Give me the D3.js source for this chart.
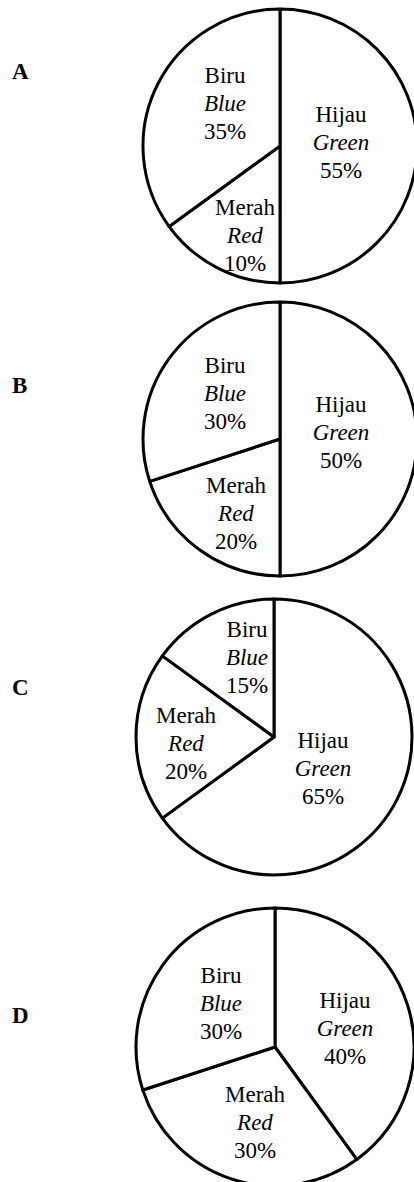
<!DOCTYPE html>
<html>
<head>
<meta charset="utf-8">
<script src="https://cdn.jsdelivr.net/npm/d3@7/dist/d3.min.js"></script>
<style>
  html, body { margin: 0; padding: 0; background: #fff; }
  svg { display: block; }
</style>
</head>
<body>
<svg id="chart" width="414" height="1182"></svg>
<script>
// ---- data ----
const charts = ["A", "B", "C", "D"];
const categoriesMalay = ["Hijau", "Merah", "Biru"];
const categoriesEnglish = ["Green", "Red", "Blue"];
// percentages printed in each pie (Hijau, Merah, Biru)
const labelA = [55, 10, 35];
const labelB = [50, 20, 30];
const labelC = [65, 20, 15];
const labelD = [40, 30, 30];
// share of the circle each slice is actually drawn with (Hijau, Merah, Biru)
const drawnA = [50, 15, 35];
const drawnB = [50, 20, 30];
const drawnC = [65, 20, 15];
const drawnD = [40, 30, 30];

const labels = [labelA, labelB, labelC, labelD];
const drawn = [drawnA, drawnB, drawnC, drawnD];

// ---- layout (positions only) ----
const layout = [
  { cx: 280, cy: 146, r: 137, letterY: 79,
    text: [[341, 122], [245, 215], [225, 83]] },
  { cx: 280, cy: 439, r: 137, letterY: 393,
    text: [[341, 412], [236, 493], [225, 373]] },
  { cx: 274, cy: 737, r: 138, letterY: 695,
    text: [[323, 748], [186, 723], [247, 637]] },
  { cx: 275, cy: 1047, r: 139, letterY: 1023,
    text: [[345, 1008], [255, 1102], [221, 983]] }
];
const lineGap = 28;

const svg = d3.select("#chart");
const pie = d3.pie().sort(null).value(d => d.v);

charts.forEach((name, i) => {
  const L = layout[i];
  const g = svg.append("g").attr("transform", `translate(${L.cx},${L.cy})`);
  const arc = d3.arc().innerRadius(0).outerRadius(L.r);
  const pieData = pie(drawn[i].map((v, k) => ({ v, k })));

  g.selectAll("path.slice")
    .data(pieData)
    .join("path")
    .attr("class", "slice")
    .attr("d", arc)
    .attr("fill", "#fff")
    .attr("stroke", "#000")
    .attr("stroke-width", 3)
    .attr("stroke-linejoin", "round");

  // chart letter
  svg.append("text")
    .attr("x", 12)
    .attr("y", L.letterY)
    .attr("font-family", "'Liberation Serif', 'DejaVu Serif', serif")
    .attr("font-weight", "bold")
    .attr("font-size", 23)
    .attr("fill", "#000")
    .text(name);

  // slice labels
  categoriesMalay.forEach((m, k) => {
    const [tx, ty] = L.text[k];
    const t = svg.append("text")
      .attr("text-anchor", "middle")
      .attr("font-family", "'Liberation Serif', 'DejaVu Serif', serif")
      .attr("font-size", 23)
      .attr("fill", "#000");
    t.append("tspan").attr("x", tx).attr("y", ty).text(m);
    t.append("tspan").attr("x", tx).attr("y", ty + lineGap)
      .attr("font-style", "italic").text(categoriesEnglish[k]);
    t.append("tspan").attr("x", tx).attr("y", ty + 2 * lineGap)
      .text(labels[i][k] + "%");
  });
});
</script>
</body>
</html>
